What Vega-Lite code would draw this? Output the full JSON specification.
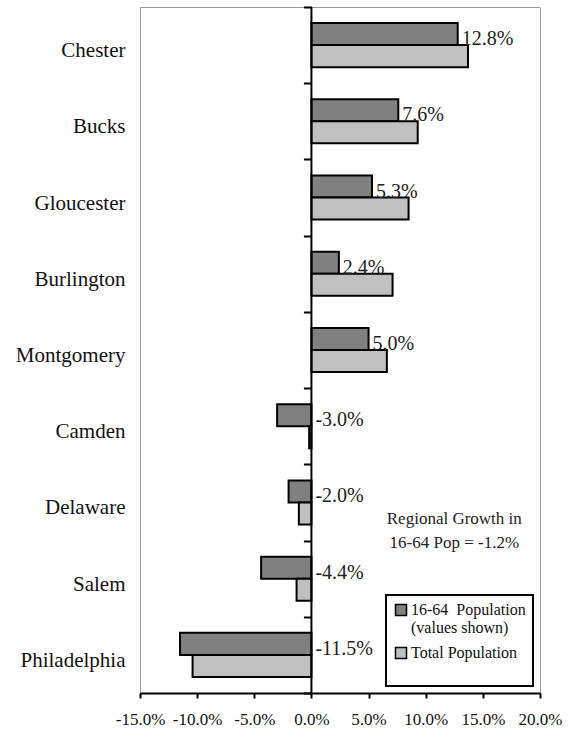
{
  "$schema": "https://vega.github.io/schema/vega-lite/v6.json",
  "width": 400,
  "height": 686,
  "autosize": {"type": "none"},
  "padding": {"left": 140, "top": 7, "right": 34, "bottom": 41},
  "config": {
    "font": "Liberation Serif",
    "view": {"stroke": "#9a9a9a", "strokeWidth": 1},
    "legend": {"strokeWidth": 2},
    "locale": {"number": {"decimal": ".", "thousands": ",", "grouping": [3], "currency": ["$", ""], "minus": "-"}}
  },
  "datasets": {
    "pop": [
      {"county": "Chester", "series": "16-64 Population", "value": 0.128},
      {"county": "Chester", "series": "Total Population", "value": 0.137},
      {"county": "Bucks", "series": "16-64 Population", "value": 0.076},
      {"county": "Bucks", "series": "Total Population", "value": 0.093},
      {"county": "Gloucester", "series": "16-64 Population", "value": 0.053},
      {"county": "Gloucester", "series": "Total Population", "value": 0.085},
      {"county": "Burlington", "series": "16-64 Population", "value": 0.024},
      {"county": "Burlington", "series": "Total Population", "value": 0.071},
      {"county": "Montgomery", "series": "16-64 Population", "value": 0.050},
      {"county": "Montgomery", "series": "Total Population", "value": 0.066},
      {"county": "Camden", "series": "16-64 Population", "value": -0.030},
      {"county": "Camden", "series": "Total Population", "value": -0.002},
      {"county": "Delaware", "series": "16-64 Population", "value": -0.020},
      {"county": "Delaware", "series": "Total Population", "value": -0.011},
      {"county": "Salem", "series": "16-64 Population", "value": -0.044},
      {"county": "Salem", "series": "Total Population", "value": -0.013},
      {"county": "Philadelphia", "series": "16-64 Population", "value": -0.115},
      {"county": "Philadelphia", "series": "Total Population", "value": -0.104}
    ],
    "note": [
      {"county": "Delaware", "x": 0.125, "note": "Regional Growth in\n16-64 Pop = -1.2%"}
    ]
  },
  "layer": [
    {
      "data": {"name": "pop"},
      "mark": {"type": "bar", "stroke": "black", "strokeWidth": 2},
      "encoding": {
        "y": {
          "field": "county", "type": "nominal",
          "sort": ["Chester", "Bucks", "Gloucester", "Burlington", "Montgomery", "Camden", "Delaware", "Salem", "Philadelphia"],
          "scale": {"paddingInner": 0, "paddingOuter": 0},
          "axis": {"orient": "left", "title": null, "domain": false, "ticks": false, "grid": false, "labelFontSize": 21, "labelColor": "#111", "labelPadding": 15, "labelFont": "Liberation Serif", "labelOffset": 6}
        },
        "yOffset": {
          "field": "series", "type": "nominal",
          "scale": {"domain": ["16-64 Population", "Total Population"], "paddingInner": 0, "paddingOuter": 0.73}
        },
        "x": {
          "field": "value", "type": "quantitative",
          "scale": {"domain": [-0.15, 0.2], "nice": false, "zero": false},
          "axis": {"title": null, "values": [-0.15, -0.1, -0.05, 0, 0.05, 0.1, 0.15, 0.2], "format": ".1%", "grid": false, "domainColor": "black", "domainWidth": 2, "tickColor": "black", "tickWidth": 2, "tickSize": 5, "labelFontSize": 17, "labelColor": "#111", "labelPadding": 13, "labelFont": "Liberation Serif", "labelFlush": false, "labelOverlap": false}
        },
        "color": {
          "field": "series", "type": "nominal",
          "scale": {"domain": ["16-64 Population", "Total Population"], "range": ["#808080", "#c0c0c0"]},
          "legend": {
            "orient": "none", "legendX": 246, "legendY": 588,
            "title": " ", "titleOrient": "bottom", "titleFontSize": 12, "titlePadding": 6,
            "padding": 7, "strokeColor": "black",
            "symbolType": "square", "symbolSize": 121, "symbolStrokeColor": "black", "symbolStrokeWidth": 1.5, "symbolOpacity": 1,
            "labelFontSize": 16, "labelFont": "Liberation Serif", "labelColor": "#111", "labelLimit": 200, "labelOffset": 2,
            "labelExpr": "datum.value == '16-64 Population' ? ['16-64\u00a0 Population', '(values shown)'] : datum.label",
            "rowPadding": 8
          }
        }
      }
    },
    {
      "data": {"values": [{}]},
      "mark": {"type": "rule", "color": "black", "strokeWidth": 2},
      "encoding": {"x": {"datum": 0}}
    },
    {
      "data": {"name": "pop"},
      "transform": [
        {"filter": "datum.series == '16-64 Population'"},
        {"calculate": "max(datum.value, 0)", "as": "pos"}
      ],
      "mark": {"type": "text", "align": "left", "baseline": "middle", "dx": 4, "dy": 5, "fontSize": 20, "color": "#222", "font": "Liberation Serif"},
      "encoding": {
        "y": {
          "field": "county", "type": "nominal",
          "sort": ["Chester", "Bucks", "Gloucester", "Burlington", "Montgomery", "Camden", "Delaware", "Salem", "Philadelphia"],
          "axis": {"orient": "left", "title": null, "offset": -171.43, "labels": false, "domain": false, "grid": false, "ticks": true, "tickBand": "extent", "tickSize": 8, "tickWidth": 2, "tickColor": "black"}
        },
        "yOffset": {"field": "series", "type": "nominal", "scale": {"domain": ["16-64 Population", "Total Population"]}},
        "x": {"field": "pos", "type": "quantitative"},
        "text": {"field": "value", "type": "quantitative", "format": ".1%"}
      }
    },
    {
      "data": {"name": "note"},
      "mark": {"type": "text", "align": "center", "baseline": "middle", "lineBreak": "\n", "fontSize": 17, "lineHeight": 24, "dy": 17, "color": "#222", "font": "Liberation Serif"},
      "encoding": {
        "y": {
          "field": "county", "type": "nominal",
          "sort": ["Chester", "Bucks", "Gloucester", "Burlington", "Montgomery", "Camden", "Delaware", "Salem", "Philadelphia"],
          "axis": null
        },
        "x": {"field": "x", "type": "quantitative"},
        "text": {"field": "note"}
      }
    }
  ],
  "resolve": {"axis": {"y": "independent"}}
}
